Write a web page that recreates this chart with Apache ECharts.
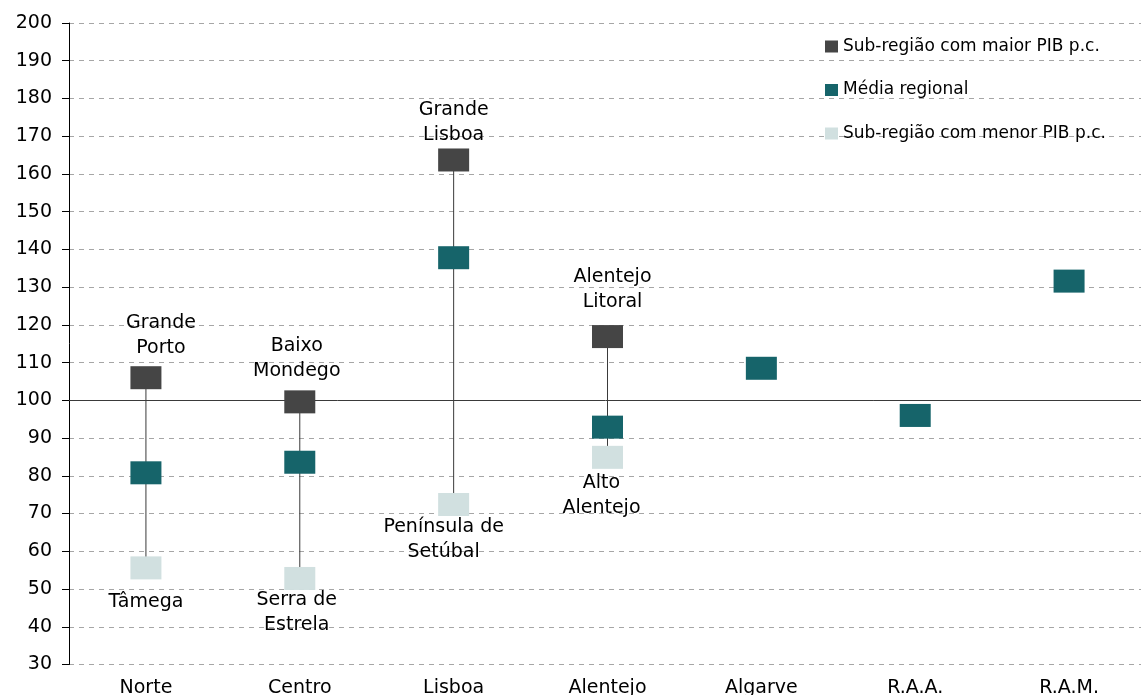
<!DOCTYPE html>
<html>
<head>
<meta charset="utf-8">
<script src="https://cdn.jsdelivr.net/npm/echarts@6/dist/echarts.min.js"></script>
<style>
  html, body { margin: 0; padding: 0; background: #fff; }
  #chart { width: 1141px; height: 695px; }
</style>
</head>
<body>
<div id="chart"></div>
<script>
// dados
const regioes = ["Norte", "Centro", "Lisboa", "Alentejo", "Algarve", "R.A.A.", "R.A.M."];
const maiorPib = [106, 99.6, 163.7, 116.9, null, null, null];
const mediaRegional = [80.8, 83.6, 137.8, 92.9, 108.5, 96, 131.6];
const menorPib = [55.6, 52.8, 72.4, 84.9, null, null, null];
const nomesMaior = ["Grande\nPorto", "Baixo\nMondego", "Grande\nLisboa", "Alentejo\nLitoral"];
const nomesMenor = ["Tâmega", "Serra de\nEstrela", "Península de\nSetúbal", "Alto\nAlentejo"];
const yTicks = { min: 30, max: 200, interval: 10 };
const linhaRef = 100;

const FONT = "DejaVu Sans";
// ajustes manuais das etiquetas (como no original)
const desvioMaior = [[15, -6], [-3, -7], [0, -1], [5, -11]];
const desvioMenor = [[0, 10], [-3, -2], [-10, -1], [-6, 2]];

let myChart = echarts.init(document.getElementById("chart"));

const rotulo = {
  show: true,
  color: "#000",
  fontFamily: FONT,
  fontSize: 19,
  lineHeight: 25,
  distance: 0
};

myChart.setOption({
  animation: false,
  grid: { left: 69, top: 23, bottom: 30.5, right: -5, outerBoundsMode: "none", containLabel: false },
  legend: {
    orient: "vertical",
    left: 825,
    top: 38,
    padding: 0,
    itemWidth: 13,
    itemHeight: 12,
    itemGap: 26.5,
    icon: "rect",
    textStyle: { fontFamily: FONT, fontSize: 17, lineHeight: 16, color: "#000" },
    data: ["Sub-região com maior PIB p.c.", "Média regional", "Sub-região com menor PIB p.c."]
  },
  xAxis: {
    type: "category",
    data: regioes,
    axisLine: { show: false },
    axisTick: { show: false },
    axisLabel: { color: "#000", fontFamily: FONT, fontSize: 19, margin: 14 },
    splitLine: { show: false }
  },
  yAxis: {
    type: "value",
    min: yTicks.min,
    max: yTicks.max,
    interval: yTicks.interval,
    axisLine: { show: true, lineStyle: { color: "#000", width: 1 } },
    axisTick: { show: true, length: 7, lineStyle: { color: "#000" } },
    axisLabel: { color: "#000", fontFamily: FONT, fontSize: 19, margin: 17 },
    splitLine: {
      show: true,
      lineStyle: { color: "#a6a6a6", width: 1, type: [5, 5] }
    }
  },
  series: [
    {
      // linha entre maior e menor
      type: "custom",
      z: 1,
      silent: true,
      encode: { x: 0, y: [1, 2] },
      data: regioes
        .map((r, i) => [i, maiorPib[i], menorPib[i]])
        .filter(d => d[1] != null && d[2] != null),
      renderItem: (params, api) => {
        const a = api.coord([api.value(0), api.value(1)]);
        const b = api.coord([api.value(0), api.value(2)]);
        return {
          type: "line",
          shape: { x1: a[0], y1: a[1], x2: b[0], y2: b[1] },
          style: { stroke: "#3a3a3a", lineWidth: 1 }
        };
      }
    },
    {
      name: "Sub-região com menor PIB p.c.",
      type: "scatter",
      z: 3,
      symbol: "rect",
      symbolSize: [31, 23],
      itemStyle: { color: "#d1e0e0", opacity: 1 },
      data: menorPib.map((v, i) => v == null ? "-" : {
        value: v,
        label: Object.assign({}, rotulo, {
          position: "bottom",
          formatter: nomesMenor[i],
          offset: desvioMenor[i]
        })
      })
    },
    {
      name: "Sub-região com maior PIB p.c.",
      type: "scatter",
      z: 3,
      symbol: "rect",
      symbolSize: [31, 23],
      itemStyle: { color: "#454545", opacity: 1 },
      data: maiorPib.map((v, i) => v == null ? "-" : {
        value: v,
        label: Object.assign({}, rotulo, {
          position: "top",
          formatter: nomesMaior[i],
          offset: desvioMaior[i]
        })
      })
    },
    {
      name: "Média regional",
      type: "scatter",
      z: 4,
      symbol: "rect",
      symbolSize: [31, 23],
      itemStyle: { color: "#16646a", opacity: 1 },
      data: mediaRegional,
      markLine: {
        silent: true,
        symbol: ["none", "none"],
        label: { show: false },
        lineStyle: { color: "#3a3a3a", width: 1, type: "solid" },
        z: 2,
        data: [{ yAxis: linhaRef }]
      }
    }
  ]
});
</script>
</body>
</html>
